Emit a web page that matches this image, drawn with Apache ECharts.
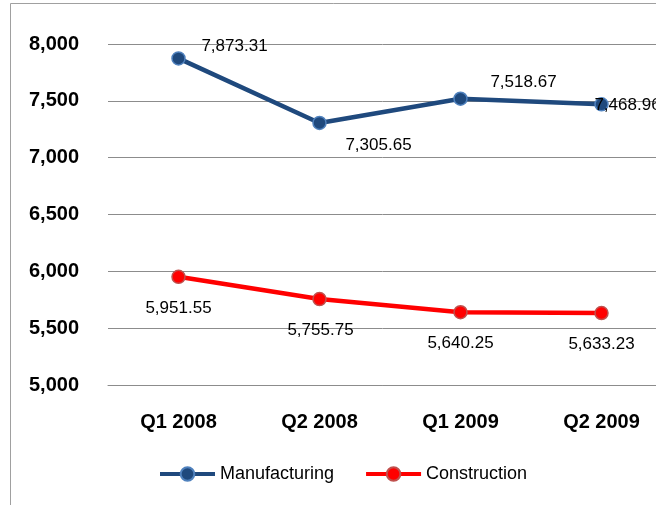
<!DOCTYPE html>
<html>
<head>
<meta charset="utf-8">
<script src="https://cdn.jsdelivr.net/npm/echarts@6/dist/echarts.min.js"></script>
<style>html,body{margin:0;padding:0;background:#fff;}#c{width:656px;height:505px;}</style>
</head>
<body>
<div id="c"></div>
<script>
const categories = ['Q1 2008', 'Q2 2008', 'Q1 2009', 'Q2 2009'];
const manufacturing = [7873.31, 7305.65, 7518.67, 7468.96];
const construction = [5951.55, 5755.75, 5640.25, 5633.23];
const manufacturingLabelOffsets = [[56, -12], [59, 22], [63, -16], [26, 1]];
const constructionLabelOffsets = [[0, 31], [1, 31], [0, 31], [0, 31]];

const fmt = v => v.toLocaleString('en-US', {minimumFractionDigits: 2, maximumFractionDigits: 2});
const font = 'Liberation Sans, Arial, sans-serif';

function buildData(values, offsets) {
  return values.map((v, i) => ({
    value: v,
    label: { offset: offsets[i] }
  }));
}

const chart = echarts.init(document.getElementById('c'), null, {renderer: 'canvas'});
chart.setOption({
  animation: false,
  backgroundColor: '#fff',
  graphic: [{
    type: 'rect', silent: true, z: -1,
    shape: { x: 10.5, y: 3.5, width: 700, height: 600 },
    style: { fill: 'none', stroke: '#a0a0a0', lineWidth: 1 }
  }],
  grid: { left: 108, top: 44, width: 564, bottom: 120, containLabel: false, outerBoundsMode: 'none' },
  xAxis: {
    type: 'category',
    data: categories,
    boundaryGap: true,
    axisLine: { show: true, lineStyle: { color: '#8c8c8c', width: 1 } },
    axisTick: { show: false },
    axisLabel: { color: '#000', fontFamily: font, fontSize: 20, fontWeight: 'bold', margin: 27 }
  },
  yAxis: {
    type: 'value',
    min: 5000, max: 8000, interval: 500,
    axisLine: { show: false },
    axisTick: { show: false },
    splitLine: { lineStyle: { color: '#8c8c8c', width: 1 } },
    axisLabel: {
      color: '#000', fontFamily: font, fontSize: 20, fontWeight: 'bold', margin: 29,
      formatter: v => v.toLocaleString('en-US')
    }
  },
  legend: {
    left: 153, top: 460,
    itemWidth: 55, itemHeight: 17, itemGap: 30,
    lineStyle: { width: 4 },
    textStyle: { color: '#000', fontFamily: font, fontSize: 18 },
    data: ['Manufacturing', 'Construction']
  },
  series: [
    {
      name: 'Manufacturing', type: 'line',
      data: buildData(manufacturing, manufacturingLabelOffsets),
      symbol: 'circle', symbolSize: 13,
      lineStyle: { color: '#1f497d', width: 4.5 },
      itemStyle: { color: '#1f497d', borderColor: '#4f81bd', borderWidth: 1.5 },
      label: {
        show: true, position: 'inside', color: '#000',
        fontFamily: font, fontSize: 17,
        formatter: p => fmt(p.value)
      },
      z: 3
    },
    {
      name: 'Construction', type: 'line',
      data: buildData(construction, constructionLabelOffsets),
      symbol: 'circle', symbolSize: 13,
      lineStyle: { color: '#ff0000', width: 4.5 },
      itemStyle: { color: '#ff0000', borderColor: '#c0504d', borderWidth: 1.5 },
      label: {
        show: true, position: 'inside', color: '#000',
        fontFamily: font, fontSize: 17,
        formatter: p => fmt(p.value)
      },
      z: 3
    }
  ]
});
</script>
</body>
</html>
